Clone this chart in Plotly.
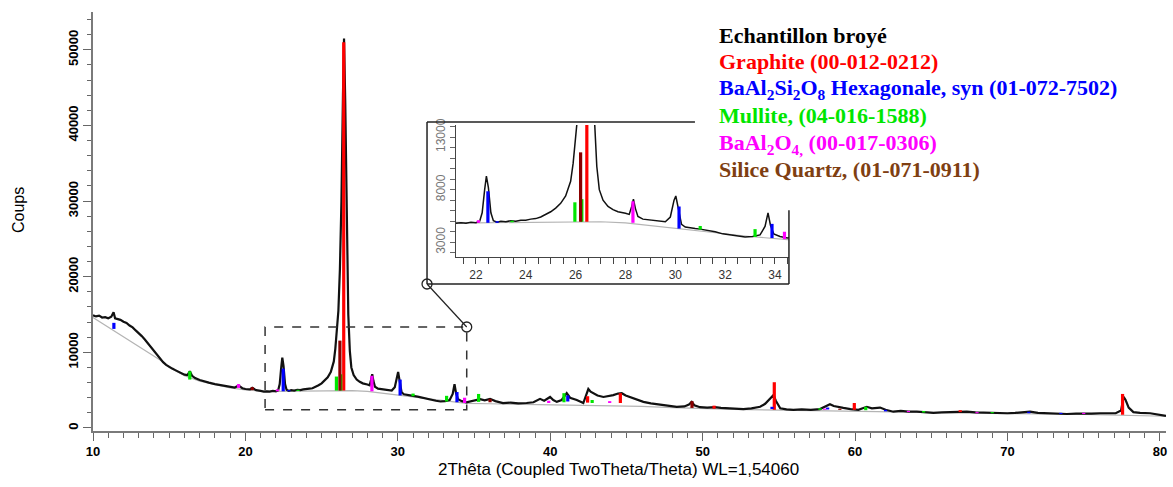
import plotly.graph_objects as go

# ---------------- data ----------------
two_theta = [
    10.0, 10.2, 10.4, 10.6, 10.8, 11.0, 11.2, 11.35, 11.45, 11.6, 11.8, 12.0, 12.2, 12.4, 12.6, 12.8,
    13.0, 13.2, 13.4, 13.6, 13.8, 14.0, 14.2, 14.4, 14.6, 14.8, 15.0, 15.2, 15.4, 15.6, 15.8, 16.0,
    16.2, 16.35, 16.5, 16.7, 17.0, 17.3, 17.6, 18.0, 18.3, 18.6, 19.0, 19.3, 19.55, 19.8, 20.0, 20.3,
    20.45, 20.7, 21.0, 21.2, 21.4, 21.6, 21.8, 22.0, 22.15, 22.25, 22.35, 22.42, 22.5, 22.6, 22.7,
    22.85, 23.0, 23.2, 23.4, 23.6, 23.8, 24.0, 24.2, 24.4, 24.6, 24.8, 25.0, 25.2, 25.4, 25.6, 25.8,
    25.9, 26.0, 26.1, 26.2, 26.3, 26.4, 26.47, 26.55, 26.65, 26.75, 26.85, 26.95, 27.1, 27.3, 27.5,
    27.7, 28.0, 28.15, 28.25, 28.32, 28.4, 28.5, 28.7, 29.0, 29.3, 29.6, 29.8, 29.95, 30.02, 30.12,
    30.25, 30.4, 30.6, 30.8, 31.0, 31.3, 31.6, 31.9, 32.2, 32.5, 32.8, 33.1, 33.4, 33.6, 33.72, 33.82,
    33.95, 34.2, 34.5, 34.8, 35.1, 35.4, 35.7, 36.05, 36.4, 36.9, 37.4, 37.9, 38.45, 38.9, 39.33, 39.6,
    39.99, 40.2, 40.43, 40.75, 41.08, 41.3, 41.74, 42.17, 42.35, 42.5, 42.65, 42.83, 43.1, 43.49, 43.8,
    44.14, 44.45, 44.69, 44.95, 45.45, 45.8, 46.11, 46.6, 47.2, 47.7, 48.3, 48.8, 49.1, 49.28, 49.45,
    49.83, 50.3, 50.8, 51.2, 51.58, 52.1, 52.67, 53.2, 53.77, 54.1, 54.43, 54.65, 54.8, 55.09, 55.5,
    55.95, 56.5, 57.1, 57.7, 58.1, 58.35, 58.6, 58.8, 59.23, 59.7, 60.22, 60.5, 60.77, 61.1, 61.4,
    61.64, 62.0, 62.51, 63.0, 63.5, 64.05, 64.6, 65.14, 65.7, 66.3, 66.9, 67.33, 67.9, 68.5, 69.0,
    69.5, 70.0, 70.5, 71.0, 71.48, 72.0, 72.6, 73.2, 73.9, 74.5, 75.0, 75.5, 76.08, 76.6, 77.1, 77.45,
    77.62, 77.75, 77.95, 78.26, 78.7, 79.36, 79.8, 80.1, 80.4,
]
counts = [
    14900, 14750, 14850, 14600, 14650, 14500, 14700, 15300, 14500, 14400, 14300, 14050, 13900, 13550, 13300, 12900,
    12550, 12150, 11700, 11200, 10650, 10100, 9600, 9100, 8700, 8350, 8050, 7850, 7650, 7450, 7250, 7050,
    7000, 7500, 6900, 6600, 6350, 6150, 6000, 5800, 5700, 5550, 5400, 5350, 5600, 5250, 5150, 5100,
    5300, 5000, 4900, 4800, 4850, 4800, 4900, 4850, 5000, 5800, 8000, 9300, 8200, 5800, 5050,
    4900, 5000, 4950, 5050, 5000, 5100, 5100, 5200, 5250, 5400, 5650, 5900, 6250, 6700, 7400, 8800,
    10500, 12500, 15500, 21000, 30000, 44000, 51500, 43000, 26000, 15000, 10200, 8000, 7000, 6400, 6100,
    5900, 5750, 5650, 6400, 7100, 6200, 5450, 5200, 5100, 5000, 4950, 5400, 7000, 7400, 6200,
    4700, 4450, 4350, 4300, 4250, 4150, 4000, 3800, 3700, 3600, 3500, 3550, 3700, 4500, 5800, 4600,
    3800, 3550, 3400, 3500, 3650, 3800, 3650, 3850, 3550, 3300, 3350, 3250, 3300, 3400, 3850, 3600,
    4100, 3700, 3450, 3700, 4600, 4000, 3700, 3300, 4300, 5150, 4800, 4600, 4300, 4100, 4200,
    4350, 4550, 4600, 4300, 3950, 3650, 3450, 3250, 3050, 2950, 2800, 2850, 3100, 3450, 3000,
    2750, 2700, 2750, 2650, 2600, 2550, 2500, 2600, 2800, 3200, 3850, 4350, 3600, 2600, 2450,
    2400, 2450, 2400, 2500, 2900, 3150, 2900, 2800, 2650, 2500, 2400, 2600, 2800, 2600, 2700,
    2700, 2400, 2150, 2250, 2150, 2150, 2050, 2000, 2050, 2100, 2200, 2150, 2050, 2000, 2050,
    1950, 1950, 2000, 2050, 2150, 2000, 1950, 1900, 1850, 1900, 1950, 1900, 1950, 1900, 1950, 2300,
    4100, 3700, 2700, 2100, 2000, 1950, 1800, 1700, 1600,
]

# background (gray) curve
bg_theta = [10.0, 14.4, 15.0, 16.0, 17.0, 18.0, 19.0, 20.0, 21.0, 22.0, 24.0, 26.0, 27.0, 28.0, 29.0,
            30.0, 31.0, 32.0, 33.0, 34.5, 36.0, 38.0, 40.0, 42.0, 44.0, 46.0, 48.0, 50.0, 52.0, 55.0,
            60.0, 65.0, 70.0, 75.0, 80.4]
bg_counts = [14600, 9000, 8000, 6900, 6200, 5700, 5300, 5050, 4900, 4850, 4900, 4950, 4950, 4850, 4600,
             4300, 4050, 3800, 3550, 3250, 3200, 3150, 3100, 3050, 2950, 2850, 2700, 2550, 2450, 2350,
             2200, 2000, 1900, 1800, 1550]

# reference sticks per phase: position, base, top
graphite_pos = [26.45, 42.45, 44.6, 50.75, 54.7, 59.95, 66.9, 77.55]
graphite_base = [4950, 3350, 3300, 2550, 2400, 2400, 2100, 1750]
graphite_top = [51000, 4200, 4600, 2950, 6050, 3300, 2350, 4500]

hexa_pos = [11.37, 22.48, 22.85, 30.15, 33.88, 41.15, 54.55, 58.2, 62.0, 71.4, 73.5]
hexa_base = [13100, 4850, 4850, 4300, 3400, 3500, 2500, 2450, 2200, 1950, 1850]
hexa_top = [13900, 7850, 5000, 6400, 4750, 4300, 2800, 2700, 2400, 2150, 2000]

mullite_pos = [16.35, 23.45, 25.97, 26.25, 31.0, 33.2, 35.3, 40.9, 42.75, 57.7, 60.7, 64.5, 69.0]
mullite_base = [6400, 4900, 4950, 4950, 4200, 3500, 3450, 3400, 3300, 2400, 2350, 2050, 1950]
mullite_top = [7500, 5050, 6800, 7100, 4550, 4250, 4500, 4600, 3700, 2600, 2800, 2250, 2100]

baal2o4_pos = [19.55, 22.1, 28.3, 34.38, 39.9, 43.9, 58.0, 63.5, 68.0, 75.0]
baal2o4_base = [5300, 4850, 4850, 3300, 3300, 3300, 2400, 2100, 1950, 1850]
baal2o4_top = [5800, 5100, 6900, 4000, 3600, 3550, 2550, 2250, 2100, 2000]

quartz_pos = [20.45, 26.2, 36.05, 49.3, 59.0]
quartz_base = [5000, 4950, 3400, 2650, 2400]
quartz_top = [5400, 11550, 3850, 3550, 2550]

legend_labels = [
    "<b>Echantillon broyé</b>",
    "<b>Graphite (00-012-0212)</b>",
    "<b>BaAl<sub>2</sub>Si<sub>2</sub>O<sub>8</sub> Hexagonale, syn (01-072-7502)</b>",
    "<b>Mullite, (04-016-1588)</b>",
    "<b>BaAl<sub>2</sub>O<sub>4,</sub> (00-017-0306)</b>",
    "<b>Silice Quartz, (01-071-0911)</b>",
]
legend_colors = ["#000000", "#ff0000", "#0000ff", "#00e600", "#ff00ff", "#7f3f12"]

# ---------------- figure ----------------
MAIN_X = [10, 80.4]
MAIN_Y = [-400, 55000]
INSET_X = [21.2, 34.56]
INSET_Y = [1600, 14150]
RECT_X = [21.29, 34.52]
RECT_Y = [2400, 13350]


def sticks(pos, base, top):
    xs, ys = [], []
    for p, b, t in zip(pos, base, top):
        xs += [p, p, None]
        ys += [b, t, None]
    return xs, ys


phases = [
    (graphite_pos, graphite_base, graphite_top, "#ff0000"),
    (hexa_pos, hexa_base, hexa_top, "#0000ff"),
    (mullite_pos, mullite_base, mullite_top, "#00e600"),
    (baal2o4_pos, baal2o4_base, baal2o4_top, "#ff00ff"),
    (quartz_pos, quartz_base, quartz_top, "#8b0000"),
]

fig = go.Figure()
for xa, ya, lw in [("x", "y", 2.2), ("x2", "y2", 1.5)]:
    fig.add_trace(go.Scatter(x=bg_theta, y=bg_counts, mode="lines", xaxis=xa, yaxis=ya,
                             line=dict(color="#b4b4b4", width=1.2), hoverinfo="skip"))
    fig.add_trace(go.Scatter(x=two_theta, y=counts, mode="lines", xaxis=xa, yaxis=ya,
                             line=dict(color="#111111", width=lw)))
    for pos, base, top, col in phases:
        sx, sy = sticks(pos, base, top)
        fig.add_trace(go.Scatter(x=sx, y=sy, mode="lines", xaxis=xa, yaxis=ya,
                                 line=dict(color=col, width=3.2), hoverinfo="skip"))

tick_font = dict(family="Liberation Sans", size=13, color="black", weight="bold")
fig.update_layout(
    width=1173, height=487,
    margin=dict(l=93, r=7, t=12, b=56),
    plot_bgcolor="white", paper_bgcolor="white",
    showlegend=False,
    xaxis=dict(domain=[0, 1], range=MAIN_X, showline=True, linecolor="#7a7a7a", linewidth=1.5,
               ticks="outside", ticklen=8, tickwidth=1.3, tickcolor="#666", tick0=10, dtick=10,
               minor=dict(ticks="outside", dtick=1, tick0=10, ticklen=5, tickcolor="#666", tickwidth=1.2),
               showgrid=False, zeroline=False, tickfont=tick_font, automargin=False),
    yaxis=dict(domain=[0, 1], range=MAIN_Y, showline=True, linecolor="#7a7a7a", linewidth=1.5,
               ticks="outside", ticklen=8, tickwidth=1.3, tickcolor="#666", tick0=0, dtick=10000,
               minor=dict(ticks="outside", dtick=2000, tick0=0, ticklen=4, tickcolor="#666", tickwidth=1.2),
               showgrid=False, zeroline=False, tickangle=-90, tickfont=tick_font, tickformat="d",
               automargin=False),
    xaxis2=dict(domain=[0.3383, 0.6486], anchor="y2", range=INSET_X, showline=True,
                linecolor="#444", linewidth=1.3, ticks="outside", ticklen=6, tickcolor="#444",
                tick0=22, dtick=2,
                minor=dict(ticks="outside", dtick=0.5, tick0=22, ticklen=6, tickcolor="#444"),
                showgrid=False, zeroline=False, automargin=False,
                tickfont=dict(family="Liberation Sans", size=12, color="#333")),
    yaxis2=dict(domain=[0.4153, 0.7303], anchor="x2", range=INSET_Y, showline=True,
                linecolor="#444", linewidth=1.3, ticks="outside", ticklen=5, tickcolor="#666",
                tick0=3000, dtick=5000, tickformat="d",
                minor=dict(ticks="outside", dtick=1000, tick0=3000, ticklen=5, tickcolor="#666"),
                showgrid=False, zeroline=False, tickangle=-90, automargin=False,
                tickfont=dict(family="Liberation Sans", size=12, color="#777")),
)

# axis titles
fig.add_annotation(text="2Thêta (Coupled TwoTheta/Theta) WL=1,54060", xref="paper", yref="paper",
                   x=0.49, y=-0.093, showarrow=False, xanchor="center", yanchor="middle",
                   font=dict(family="Liberation Sans", size=17, color="black"))
fig.add_annotation(text="Coups", xref="paper", yref="paper", x=-0.07, y=0.527, textangle=-90,
                   showarrow=False, xanchor="center", yanchor="middle",
                   font=dict(family="Liberation Sans", size=16, color="black"))

# legend text block
leg_y = [0.945, 0.881, 0.816, 0.752, 0.686, 0.624]
for lab, col, yy in zip(legend_labels, legend_colors, leg_y):
    fig.add_annotation(text=lab, xref="paper", yref="paper", x=0.5815, y=yy, showarrow=False,
                       xanchor="left", yanchor="middle",
                       font=dict(family="Liberation Serif", size=22, color=col))

# zoom rectangle in main plot
fig.add_shape(type="rect", xref="x", yref="y", x0=RECT_X[0], x1=RECT_X[1], y0=RECT_Y[0], y1=RECT_Y[1],
              line=dict(color="#333", width=1.5, dash="dash"))

# inset frame (partly hidden behind legend block)
fl, fr, fb, ft = 0.3113, 0.6486, 0.3508, 0.7375
frame_line = dict(color="#222", width=1.5)
fig.add_shape(type="line", xref="paper", yref="paper", x0=fl, x1=0.561, y0=ft, y1=ft, line=frame_line)
fig.add_shape(type="line", xref="paper", yref="paper", x0=fl, x1=fl, y0=fb, y1=ft, line=frame_line)
fig.add_shape(type="line", xref="paper", yref="paper", x0=fl, x1=fr, y0=fb, y1=fb, line=frame_line)
fig.add_shape(type="line", xref="paper", yref="paper", x0=fr, x1=fr, y0=fb, y1=0.527, line=frame_line)

# connector between zoom rect corner and inset frame
cx = (RECT_X[1] - MAIN_X[0]) / (MAIN_X[1] - MAIN_X[0])
cy = (RECT_Y[1] - MAIN_Y[0]) / (MAIN_Y[1] - MAIN_Y[0])
fig.add_shape(type="line", xref="paper", yref="paper", x0=fl, y0=fb, x1=cx, y1=cy,
              line=dict(color="#222", width=1.2))
for ax_, ay_ in [(fl, fb), (cx, cy)]:
    fig.add_shape(type="circle", xref="paper", yref="paper", xsizemode="pixel", ysizemode="pixel",
                  xanchor=ax_, yanchor=ay_, x0=-5, x1=5, y0=-5, y1=5,
                  line=dict(color="#222", width=1.3), fillcolor="rgba(255,255,255,0)")

fig.write_html("out.html", config={"displayModeBar": False},
               post_script="document.body.style.margin='0px';")
